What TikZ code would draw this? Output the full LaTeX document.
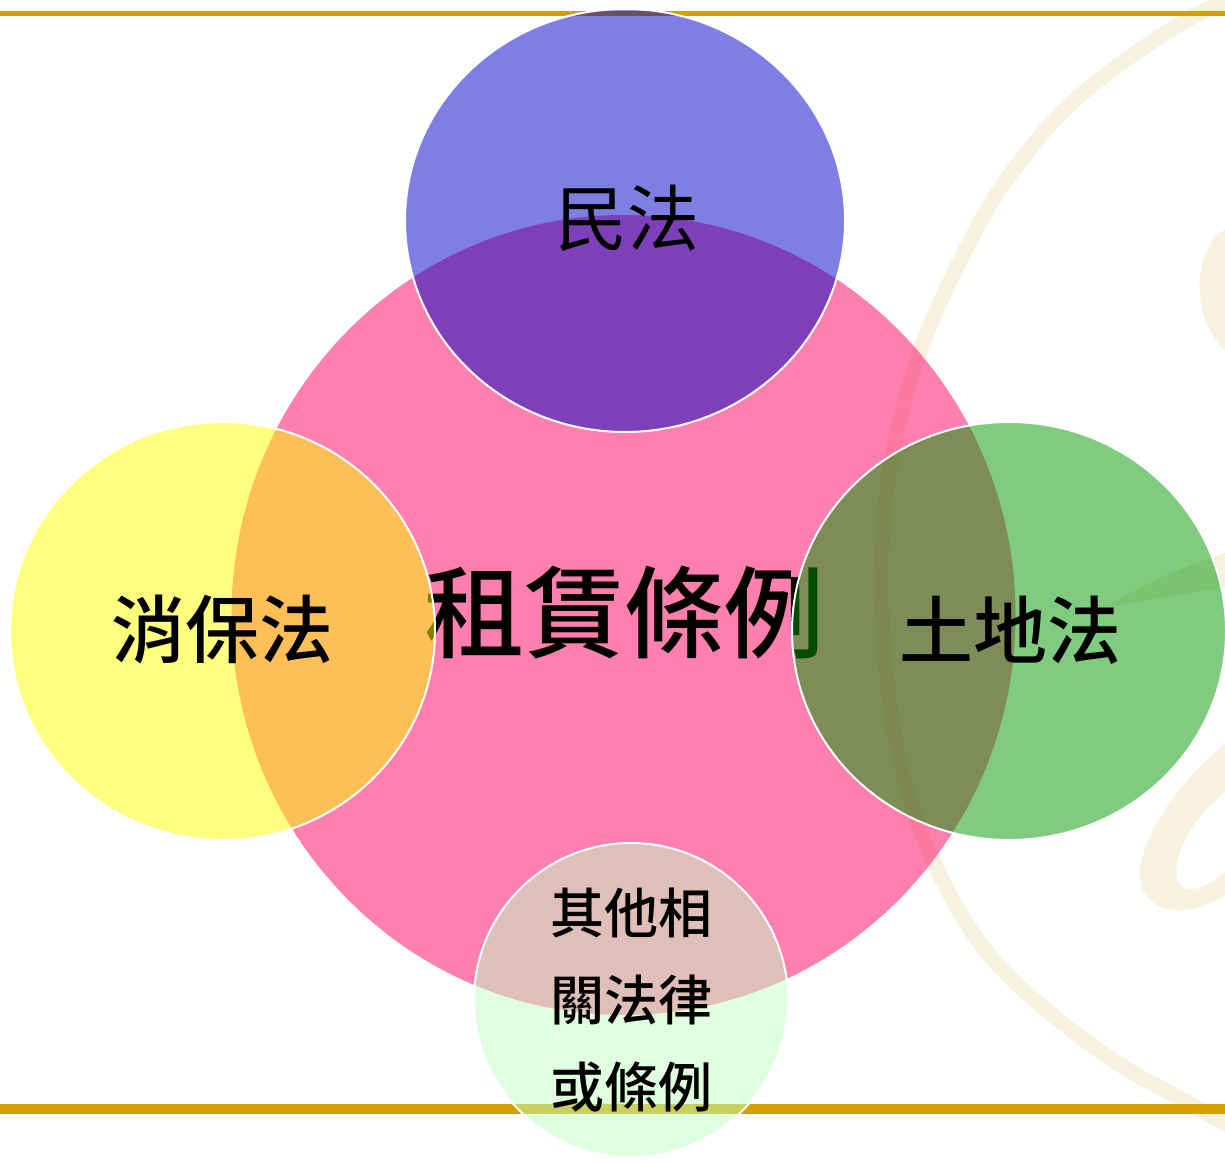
\documentclass[tikz,border=0pt]{standalone}
\usepackage{fontspec}
\newfontfamily\cjk{Noto Sans CJK TC}
\newfontfamily\cjkm{Noto Sans CJK TC Medium}
\definecolor{gold}{RGB}{212,160,0}
\definecolor{wm}{RGB}{247,241,223}
\definecolor{pinkc}{RGB}{255,0,96}
\definecolor{bluec}{RGB}{0,0,200}
\definecolor{yelc}{RGB}{255,255,0}
\definecolor{grnc}{RGB}{0,153,0}
\definecolor{mintc}{RGB}{192,255,192}
\begin{document}
\begin{tikzpicture}[x=1pt,y=-1pt,
  bubble/.style={fill opacity=0.5, draw=white, line width=2pt, draw opacity=1},
  wmline/.style={draw=wm, line width=15pt, line cap=round},
  sidelbl/.style={font=\cjkm\fontsize{74}{74}\selectfont, inner sep=0pt}]
\useasboundingbox (0,0) rectangle (1225,1161);
\fill[white] (0,0) rectangle (1225,1161);
% watermark
\draw[wmline] plot[smooth, tension=0.6] coordinates {(1250,-8) (1210,8) (1150,43) (1083,93) (1037,140) (993,200) (957,267) (927,333) (905,400) (888,480) (881,580) (887,680) (900,760) (920,830) (960,913) (1000,967) (1050,1013) (1117,1063) (1183,1100) (1245,1135)};
\fill[wm] (1228,228) .. controls (1192,245) and (1188,320) .. (1228,353) -- cycle;
\fill[wm] (1228,552) .. controls (1180,568) and (1140,585) .. (1110,606) .. controls (1150,600) and (1190,592) .. (1228,588) -- cycle;
\fill[wm] (1228,742) .. controls (1180,780) and (1145,830) .. (1140,870) .. controls (1138,900) and (1160,912) .. (1185,910) .. controls (1205,908) and (1218,900) .. (1228,892) -- (1228,870) .. controls (1212,885) and (1190,895) .. (1180,885) .. controls (1168,870) and (1185,820) .. (1228,790) -- cycle;
% gold rules
\draw[gold, line width=5pt] (0,13.5) -- (1225,13.5);
\draw[gold, line width=10pt] (0,1109) -- (1225,1109);
% central ellipse and title
\fill[pinkc, fill opacity=0.5] (623.5,615) ellipse [x radius=392pt, y radius=400pt];
\node[font=\cjkm\fontsize{100}{100}\selectfont, inner sep=0pt] (title) at (624,613) {租賃條例};
% top
\path[bubble, fill=bluec] (625,220.5) ellipse [x radius=220pt, y radius=211.5pt];
\node[font=\cjk\fontsize{72}{72}\selectfont, inner sep=0pt] (civil) at (627,218) {民法};
% left / right
\path[bubble, fill=yelc] (222.5,631) ellipse [x radius=212.5pt, y radius=209pt];
\path[bubble, fill=grnc] (1009,631) ellipse [x radius=217pt, y radius=209pt];
\node[sidelbl] (consumer) at (222,630) {消保法};
\node[sidelbl] (land) at (1010,630) {土地法};
% bottom
\path[bubble, fill=mintc] (631,1000) circle [radius=157pt];
\node[align=center, inner sep=0pt, font=\cjkm\fontsize{54}{87}\selectfont] (other) at (631,1000) {其他相\\關法律\\或條例};
\end{tikzpicture}
\end{document}
